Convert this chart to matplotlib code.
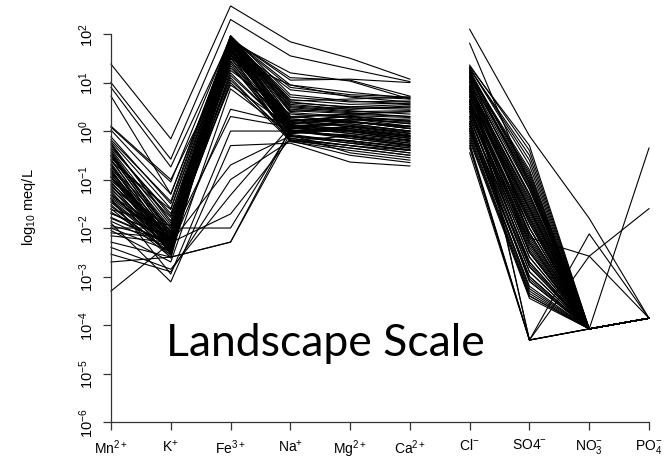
import numpy as np
import matplotlib
matplotlib.use("Agg")
import matplotlib.pyplot as plt

ions = ["Mn$^{2+}$", "K$^{+}$", "Fe$^{3+}$", "Na$^{+}$", "Mg$^{2+}$", "Ca$^{2+}$",
        "Cl$^{-}$", "SO4$^{-}$", "NO$_3^{-}$", "PO$_4^{-}$"]

# log10 meq/L values, one entry per sample
log_mn = [1.38, 1.0, 0.9, 0.72, 0.1, -0.5,
          0.08, -0.12, -0.22, -0.31, -0.38, -0.47, -0.52, -0.6, -0.66, -0.71,
          -0.77, -0.83, -0.88, -0.93, -1.02, -1.07, -1.13, -1.18, -1.24, -1.31,
          -1.36, -1.42, -1.47, -1.55, -1.62, -1.7, -1.78, -1.86, -1.95, -0.28,
          -0.41, -0.55, -0.63, -0.74, -0.86, -0.97, -1.1, -1.21, -1.33, -1.45,
          -0.18, -0.35, -0.9, -1.6,
          -2.0, -2.16, -2.29, -2.4, -2.54, -2.7, -3.3, -1.9, -1.4, -0.8, -2.05, -1.7,
          0.02, -0.25, -0.44, -0.58, -0.69, -0.8, -0.95, -1.05, -1.15, -1.27,
          -1.39, -1.52, -1.67, -1.8, -2.1, -2.0, -0.5, -0.95]
log_k = [-0.16, -0.58, -0.74, -1.3, -1.0, -2.2,
         -1.05, -1.5, -1.6, -1.75, -1.95, -2.1, -2.2, -2.28, -2.35, -2.42,
         -2.15, -2.3, -2.48, -2.55, -2.05, -2.25, -2.4, -2.5, -2.62, -2.33,
         -2.22, -2.38, -2.45, -2.52, -1.95, -2.18, -2.32, -2.42, -2.26, -1.85,
         -2.08, -1.78, -1.62, -2.0, -2.2, -2.36, -2.5, -2.28, -2.12, -2.4,
         -1.45, -1.7, -2.22, -2.6,
         -2.0, -2.3, -2.6, -2.85, -2.9, -2.6, -2.3, -3.11, -2.95, -2.4, -2.7, -2.2,
         -1.3, -1.9, -2.15, -2.3, -2.44, -2.52, -2.24, -2.35, -2.1, -2.46,
         -2.28, -2.56, -2.4, -2.32, -2.2, -2.48, -2.0, -2.25]
log_fe = [2.58, 2.3, 1.9, 1.85, 1.5, 1.7,
          1.95, 1.92, 1.88, 1.96, 1.9, 1.83, 1.78, 1.93, 1.7, 1.86,
          1.62, 1.94, 1.8, 1.55, 1.9, 1.75, 1.45, 1.96, 1.68, 1.35,
          1.87, 1.25, 1.92, 1.6, 1.82, 1.15, 1.89, 1.72, 1.05, 1.95,
          1.84, 1.5, 1.91, 0.95, 1.77, 1.4, 1.93, 1.65, 1.3, 1.88,
          1.97, 1.58, 1.2, 1.85,
          -2.0, -1.71, -2.29, -1.32, -1.0, -2.29, -0.7, -0.3, 0.0, 0.45, 0.87, 0.3,
          1.9, 1.95, 1.74, 1.86, 1.52, 1.92, 1.66, 1.81, 1.1, 1.94,
          1.44, 1.89, 1.7, 1.57, 1.0, 1.9, 1.79, 1.93]
log_na = [1.84, 1.55, 1.1, 1.2, 0.95, 0.3,
          0.62, 0.2, 0.05, 0.55, -0.1, 0.15, 0.85, 0.0, 0.3, -0.2,
          0.1, 0.48, -0.05, 0.25, 0.7, 0.02, -0.15, 0.4, 0.12, -0.1,
          0.05, 0.35, 0.95, -0.22, 0.18, 0.0, 0.58, 0.08, -0.12, 0.28,
          0.45, -0.05, 1.05, 0.1, 0.22, -0.18, 0.65, 0.03, 0.15, -0.08,
          0.75, 0.2, -0.02, 0.5,
          0.0, -0.15, -0.05, 0.1, -0.2, 0.05, -0.1, -0.25, 0.0, 0.15, -0.05, 0.08,
          0.9, 0.12, -0.1, 0.38, 0.06, 0.52, -0.02, 0.2, -0.18, 0.42,
          0.0, 0.3, -0.07, 0.14, -0.2, 0.6, 0.25, 0.08]
log_mg = [1.5, 1.28, 1.05, 1.03, 0.7, 0.2,
          0.66, 0.3, 0.0, 0.45, -0.2, 0.25, 0.72, -0.1, 0.35, -0.35,
          0.15, 0.4, 0.1, 0.18, 0.6, -0.15, -0.3, 0.5, 0.05, -0.25,
          0.22, 0.28, 0.8, -0.4, 0.1, 0.08, 0.5, -0.05, -0.2, 0.35,
          0.38, 0.02, 1.07, 0.2, 0.12, -0.3, 0.55, -0.12, 0.25, -0.45,
          0.62, 0.3, -0.08, 0.42,
          0.1, -0.3, 0.05, 0.0, -0.1, 0.2, -0.25, -0.64, -0.15, 0.25, 0.1, -0.05,
          0.75, 0.0, -0.2, 0.3, 0.15, 0.45, -0.1, 0.32, -0.35, 0.36,
          0.05, 0.2, -0.22, 0.02, -0.5, 0.48, 0.18, -0.02]
log_ca = [1.07, 1.02, 0.72, 0.66, 0.6, 0.05,
          0.7, 0.2, -0.15, 0.5, -0.35, 0.1, 0.66, -0.25, 0.3, -0.5,
          0.0, 0.42, -0.05, 0.1, 0.62, -0.3, -0.4, 0.55, -0.1, -0.38,
          0.25, 0.15, 0.68, -0.55, -0.05, -0.08, 0.48, -0.2, -0.32, 0.4,
          0.3, -0.12, 1.0, 0.05, 0.0, -0.45, 0.58, -0.28, 0.18, -0.6,
          0.56, 0.22, -0.22, 0.35,
          -0.05, -0.45, -0.1, -0.2, -0.3, 0.05, -0.4, -0.72, -0.3, 0.15, -0.02, -0.18,
          0.7, -0.15, -0.35, 0.2, 0.0, 0.52, -0.25, 0.28, -0.5, 0.4,
          -0.1, 0.1, -0.4, -0.12, -0.65, 0.45, 0.08, -0.15]
log_cl = [2.1, 1.81, 1.3, 1.2, 1.1, 0.8,
          1.36, 1.25, 0.9, 1.1, 0.5, 0.7, 1.3, 0.2, 0.85, -0.1,
          0.6, 1.15, 0.3, 0.95, 1.2, 0.4, 0.05, 1.0, 0.55, -0.3,
          0.75, 0.9, 1.28, -0.2, 0.65, 0.1, 1.05, 0.45, 0.0, 0.8,
          0.95, 0.25, 1.33, 0.58, 0.7, -0.05, 1.18, 0.35, 0.15, -0.45,
          1.22, 0.88, 0.5, 1.02,
          0.6, 0.3, 0.9, 0.0, 0.45, 0.75, 0.2, -0.35, 0.5, 1.0, 0.65, 0.15,
          1.3, 0.82, 0.4, 1.12, 0.62, 1.25, 0.1, 0.92, -0.25, 1.08,
          0.48, 0.72, 0.05, 0.55, -0.15, 1.15, 0.85, 0.3]
log_so4 = [-0.1, -1.1, -2.2, -4.31, -4.31, -2.5,
           -0.4, -1.2, -2.0, -1.0, -2.8, -1.6, -0.7, -3.1, -1.9, -3.4,
           -2.3, -1.1, -2.9, -1.5, -0.9, -2.6, -3.3, -1.3, -2.2, -4.31,
           -1.8, -1.4, -0.5, -3.45, -2.1, -3.0, -1.2, -2.5, -3.2, -1.7,
           -1.45, -2.7, -0.3, -2.0, -1.9, -3.35, -0.8, -2.45, -2.8, -4.31,
           -1.0, -1.6, -2.4, -1.35,
           -2.1, -2.7, -1.6, -3.0, -2.3, -1.8, -3.1, -4.31, -2.5, -1.3, -2.0, -2.9,
           -0.6, -1.75, -2.6, -1.15, -2.15, -0.95, -3.25, -1.55, -4.31, -1.05,
           -2.35, -1.85, -3.05, -2.25, -3.4, -0.85, -1.65, -2.75]
log_no3 = [-1.8, -4.08, -2.58, -2.12, -2.58, -4.08,
           -4.08, -4.08, -4.08, -4.08, -4.08, -4.08, -4.08, -4.08, -4.08, -4.08,
           -4.08, -4.08, -4.08, -4.08, -4.08, -4.08, -4.08, -4.08, -4.08, -4.08,
           -4.08, -4.08, -4.08, -4.08, -4.08, -4.08, -4.08, -4.08, -4.08, -4.08,
           -4.08, -4.08, -4.08, -4.08, -4.08, -4.08, -4.08, -4.08, -4.08, -4.08,
           -4.08, -4.08, -4.08, -4.08,
           -4.08, -4.08, -4.08, -4.08, -4.08, -4.08, -4.08, -4.08, -4.08, -4.08, -4.08, -4.08,
           -4.08, -4.08, -4.08, -4.08, -4.08, -4.08, -4.08, -4.08, -4.08, -4.08,
           -4.08, -4.08, -4.08, -4.08, -4.08, -4.08, -4.08, -4.08]
log_po4 = [-3.86, -3.86, -3.86, -3.86, -1.6, -0.35,
           -3.86, -3.86, -3.86, -3.86, -3.86, -3.86, -3.86, -3.86, -3.86, -3.86,
           -3.86, -3.86, -3.86, -3.86, -3.86, -3.86, -3.86, -3.86, -3.86, -3.86,
           -3.86, -3.86, -3.86, -3.86, -3.86, -3.86, -3.86, -3.86, -3.86, -3.86,
           -3.86, -3.86, -3.86, -3.86, -3.86, -3.86, -3.86, -3.86, -3.86, -3.86,
           -3.86, -3.86, -3.86, -3.86,
           -3.86, -3.86, -3.86, -3.86, -3.86, -3.86, -3.86, -3.86, -3.86, -3.86, -3.86, -3.86,
           -3.86, -3.86, -3.86, -3.86, -3.86, -3.86, -3.86, -3.86, -3.86, -3.86,
           -3.86, -3.86, -3.86, -3.86, -3.86, -3.86, -3.86, -3.86]

y_ticks = [1e-6, 1e-5, 1e-4, 1e-3, 1e-2, 1e-1, 1e0, 1e1, 1e2]
y_tick_labels = ["$10^{-6}$", "$10^{-5}$", "$10^{-4}$", "$10^{-3}$", "$10^{-2}$",
                 "$10^{-1}$", "$10^{0}$", "$10^{1}$", "$10^{2}$"]

cations = np.array([log_mn, log_k, log_fe, log_na, log_mg, log_ca]).T
anions = np.array([log_cl, log_so4, log_no3, log_po4]).T
x_cat = np.arange(1, 7)
x_an = np.arange(7, 11)

plt.rcParams["font.family"] = ["Liberation Sans", "DejaVu Sans"]
plt.rcParams["mathtext.fontset"] = "custom"
plt.rcParams["mathtext.rm"] = "Liberation Sans"
plt.rcParams["mathtext.it"] = "Liberation Sans"

fig = plt.figure(figsize=(6.66, 4.6), dpi=100)
ax = fig.add_axes([111 / 666, 37 / 460, 538 / 666, 418 / 460])

for row in cations:
    ax.plot(x_cat, 10.0 ** row, color="black", lw=0.8, clip_on=False)
for row in anions:
    ax.plot(x_an, 10.0 ** row, color="black", lw=0.8, clip_on=False)

ax.set_yscale("log")
ax.set_xlim(1, 10)
ax.set_ylim(1e-6, 10 ** 2.62)
ax.set_yticks(y_ticks)
ax.set_yticklabels(y_tick_labels, rotation=90, va="center", fontsize=10.5)
ax.minorticks_off()
ax.set_xticks(np.arange(1, 11))
ax.set_xticklabels(ions, fontsize=10)
ax.tick_params(axis="both", length=6, width=0.9, color="#333333")
ax.tick_params(axis="x", pad=5)
ax.tick_params(axis="y", pad=5)
for s in ["top", "right"]:
    ax.spines[s].set_visible(False)
ax.spines["left"].set_bounds(1e-6, 1e2)
ax.spines["left"].set_color("#333333")
ax.spines["bottom"].set_color("#333333")
ax.spines["left"].set_linewidth(0.9)
ax.spines["bottom"].set_linewidth(0.9)

fig.text(29 / 666, 1 - 207 / 460, "log$_{10}$ meq/L", rotation=90, ha="center",
         va="center", fontsize=10.5)

fig.text(325 / 666, 1 - 344 / 460, "Landscape Scale", ha="center", va="center",
         fontsize=32, family=["Lato", "DejaVu Sans"])

fig.savefig("out.png", dpi=100)
